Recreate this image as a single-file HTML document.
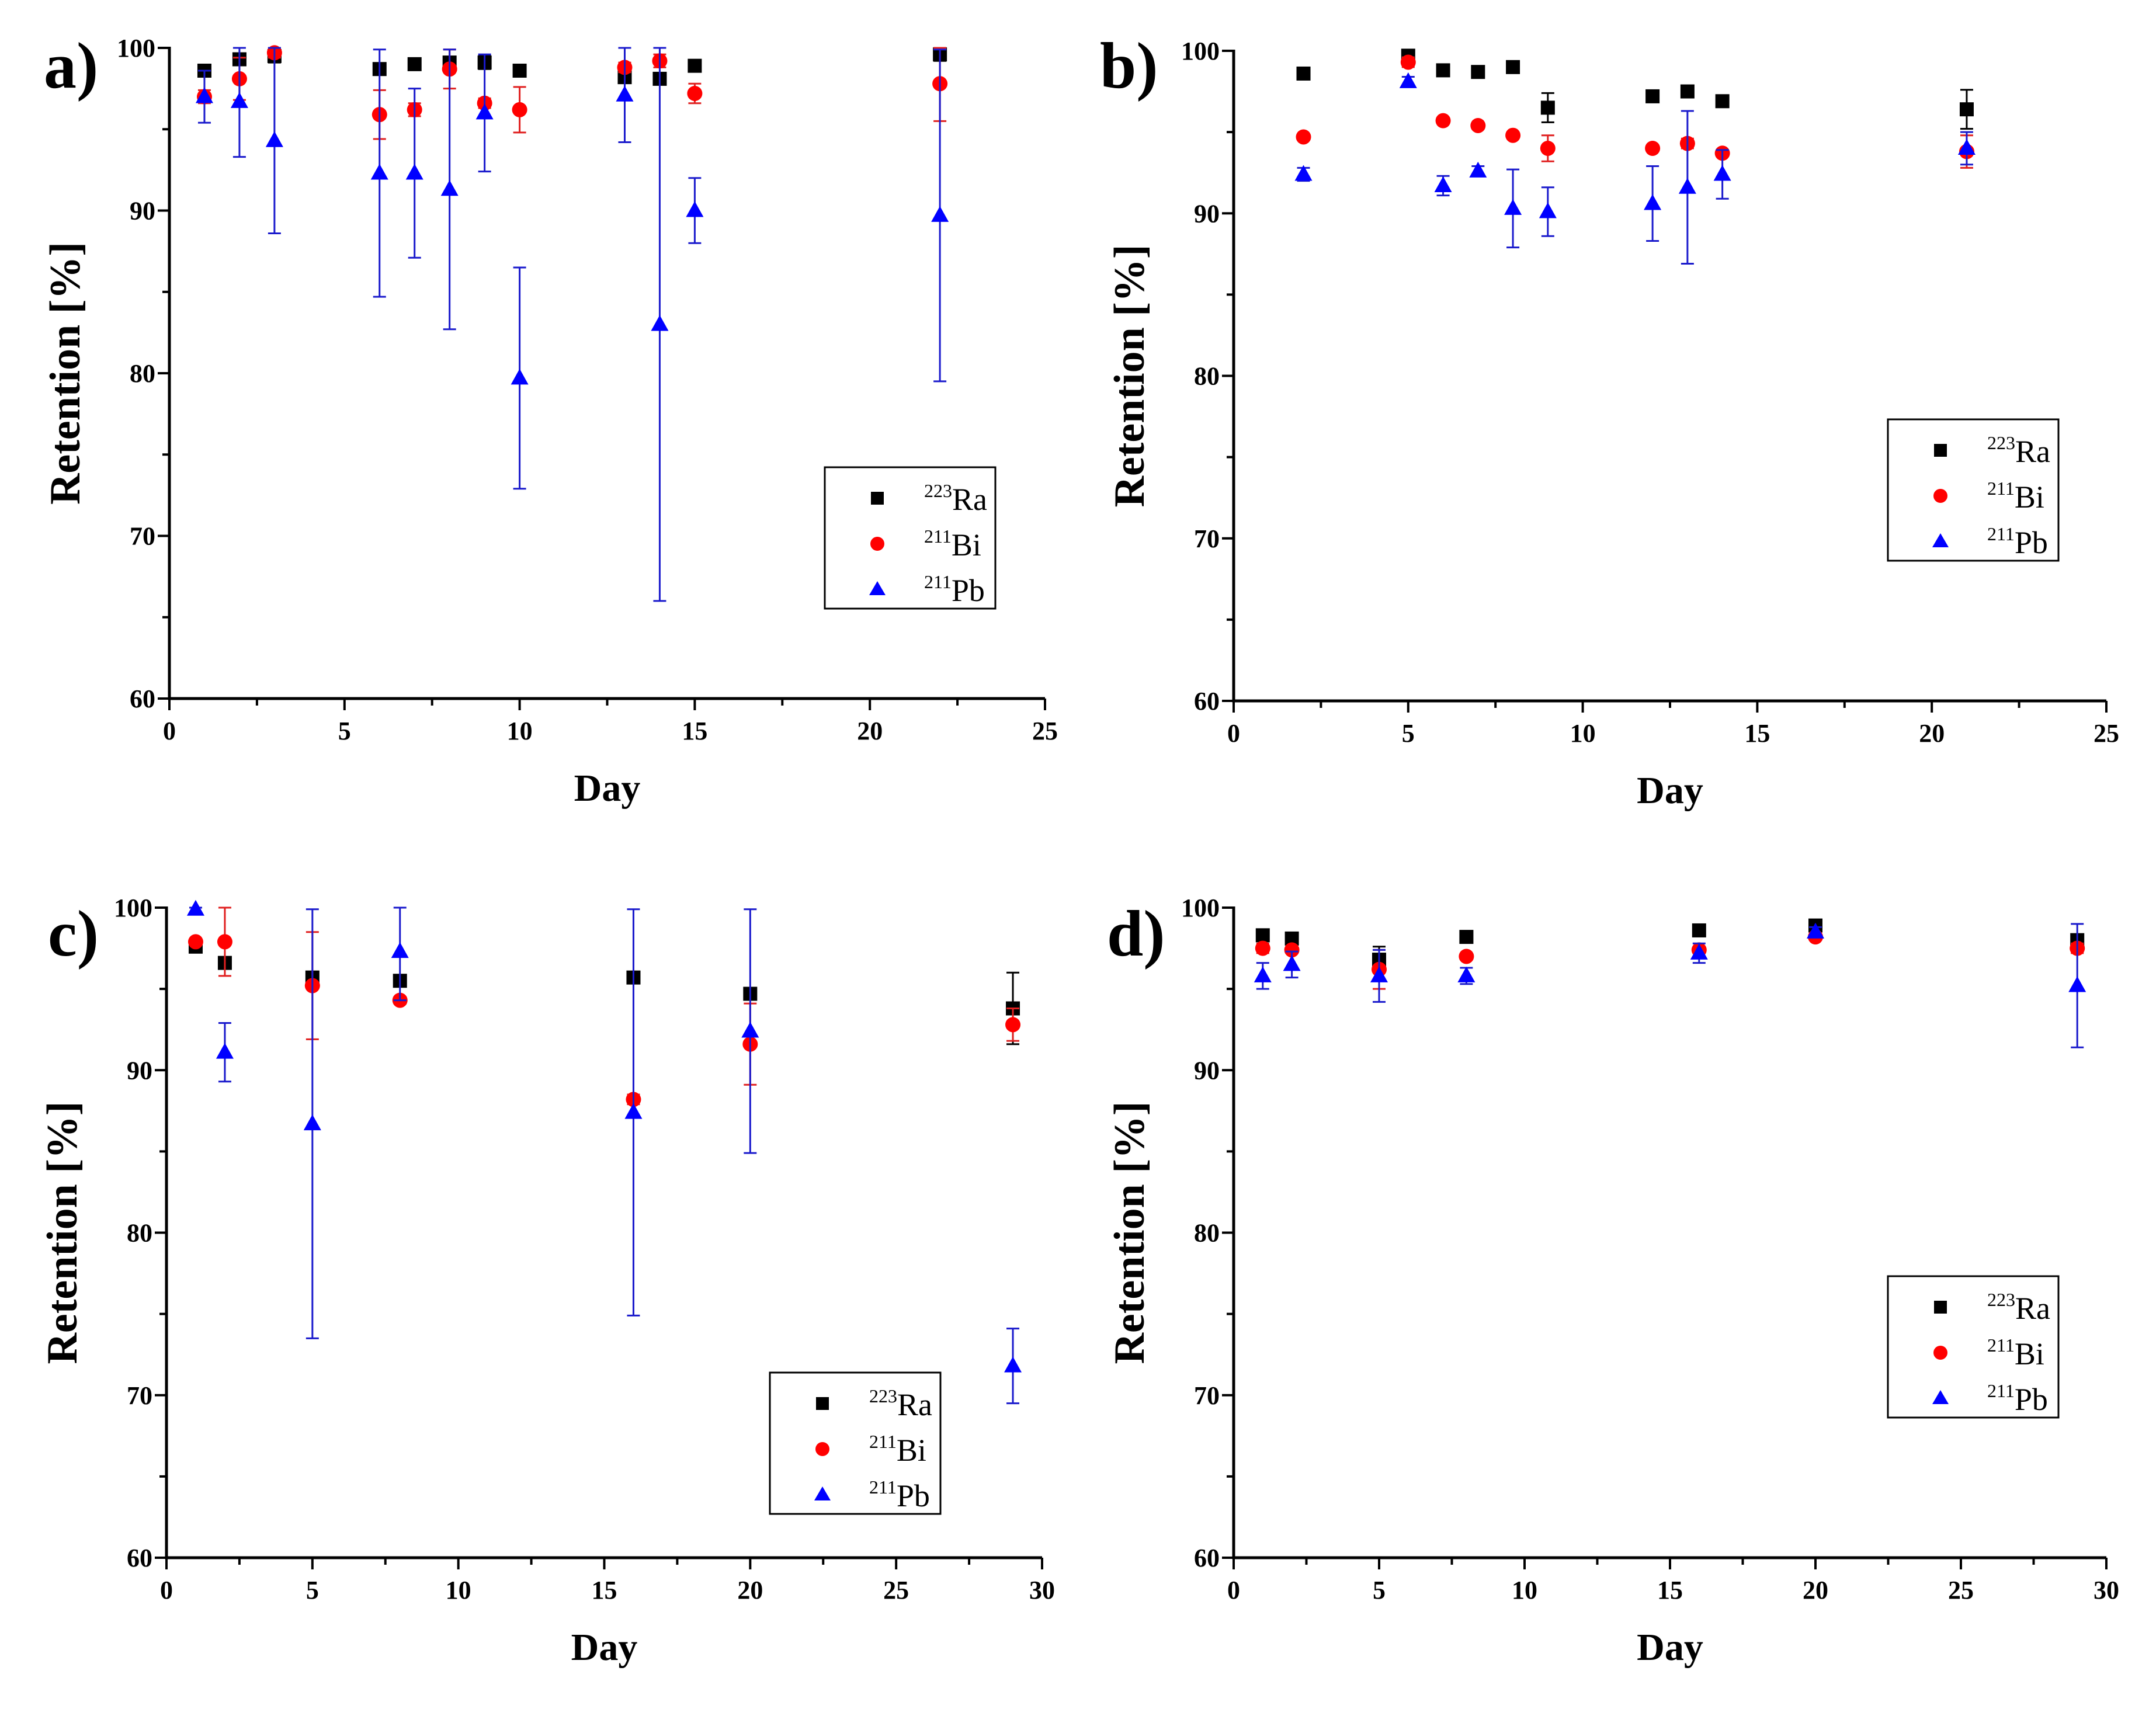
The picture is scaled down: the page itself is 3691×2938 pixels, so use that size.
<!DOCTYPE html>
<html><head><meta charset="utf-8">
<style>
html,body{margin:0;padding:0;background:#fff;}
svg{display:block;}
text{font-family:"Liberation Serif",serif;font-weight:bold;}
</style></head>
<body>
<svg id="fig" width="3691" height="2938" viewBox="0 0 3691 2938" xmlns="http://www.w3.org/2000/svg"></svg>
<script>
// ---- data: panel a ----
const aDays=[1,2,3,6,7,8,9,10,13,14,15,22];
const aRa=[98.6,99.3,99.5,98.7,99.0,99.1,99.1,98.6,98.2,98.1,98.9,99.6];
const aRaErr=[0.2,0.3,0.4,0.2,0.2,0.3,0.4,0.2,0.3,0.3,0.2,0.4];
const aBi=[97.0,98.1,99.7,95.9,96.2,98.7,96.6,96.2,98.8,99.2,97.2,97.8];
const aBiErr=[0.4,1.3,0.3,1.5,0.4,1.2,0.3,1.4,0.3,0.4,0.6,2.3];
const aPb=[97.0,96.7,94.3,92.3,92.3,91.3,96.0,79.7,97.1,83.0,90.0,89.7];
const aPbErr=[1.6,3.4,5.7,7.6,5.2,8.6,3.6,6.8,2.9,17.0,2.0,10.2];
// ---- data: panel b ----
const bDays=[2,5,6,7,8,9,12,13,14,21];
const bRa=[98.6,99.7,98.8,98.7,99.0,96.5,97.2,97.5,96.9,96.4];
const bRaErr=[0.1,0.1,0.1,0.1,0.1,0.9,0.1,0.3,0.1,1.2];
const bBi=[94.7,99.3,95.7,95.4,94.8,94.0,94.0,94.3,93.7,93.8];
const bBiErr=[0.1,0.3,0.1,0.1,0.1,0.8,0.2,0.3,0.2,1.0];
const bPb=[92.4,98.1,91.7,92.6,90.3,90.1,90.6,91.6,92.4,94.0];
const bPbErr=[0.4,0.3,0.6,0.3,2.4,1.5,2.3,4.7,1.5,1.0];
// ---- data: panel c ----
const cDays=[1,2,5,8,16,20,29];
const cRa=[97.6,96.6,95.7,95.5,95.7,94.7,93.8];
const cRaErr=[0.2,0.2,0.3,0.3,0.2,0.3,2.2];
const cBi=[97.9,97.9,95.2,94.3,88.2,91.6,92.8];
const cBiErr=[0.2,2.1,3.3,0.2,0.3,2.5,1.0];
const cPb=[99.9,91.1,86.7,97.3,87.4,92.4,71.8];
const cPbErr=[0.3,1.8,13.2,3.0,12.5,7.5,2.3];
// ---- data: panel d ----
const dDays=[1,2,5,8,16,20,29];
const dRa=[98.3,98.1,96.8,98.2,98.6,98.9,98.0];
const dRaErr=[0.1,0.1,0.8,0.1,0.1,0.1,0.2];
const dBi=[97.5,97.4,96.2,97.0,97.4,98.2,97.5];
const dBiErr=[0.3,0.2,1.2,0.2,0.2,0.1,0.3];
const dPb=[95.8,96.5,95.8,95.8,97.2,98.5,95.2];
const dPbErr=[0.8,0.8,1.6,0.5,0.6,0.3,3.8];
const yTicks=[60,70,80,90,100];

const NS="http://www.w3.org/2000/svg";
const svg=document.getElementById('fig');
function mk(tag,attrs,parent){const e=document.createElementNS(NS,tag);for(const k in attrs)e.setAttribute(k,attrs[k]);(parent||svg).appendChild(e);return e;}

function panel(p){
  const g=mk('g',{});
  
  
  const X=v=>p.x0+(v/p.xmax)*(p.x1-p.x0);
  const Y=v=>p.y0+((100-v)/40)*(p.y1-p.y0);
  const ax=mk('path',{d:`M${p.x0} ${p.y0-2}V${p.y1}H${p.x1}`,fill:'none',stroke:'#000','stroke-width':5},g);
  
  
  for(let v=0;v<=p.xmax;v+=2.5){
    const major=(v%5===0);
    mk('line',{x1:X(v),x2:X(v),y1:p.y1,y2:p.y1+(major?20:12),stroke:'#000','stroke-width':4},g);
    if(major){const t=mk('text',{x:X(v),y:p.y1+70,'font-size':44,'text-anchor':'middle'},g);t.textContent=v;
      
      }
  }
  for(let v=60;v<=100;v+=5){
    const major=(v%10===0);
    mk('line',{x1:p.x0,x2:p.x0-(major?20:12),y1:Y(v),y2:Y(v),stroke:'#000','stroke-width':4},g);
  }
  yTicks.forEach(v=>{const t=mk('text',{x:p.x0-24,y:Y(v)+15,'font-size':44,'text-anchor':'end'},g);t.textContent=v;
    
    });
  const xt=mk('text',{x:(p.x0+p.x1)/2,y:p.y1+175,'font-size':66,'text-anchor':'middle'},g);xt.textContent='Day';
  
  
  const yc=(p.y0+p.y1)/2;
  const tx=p.x0-178;
  const yt=mk('text',{x:tx,y:yc+24,'font-size':74,'text-anchor':'middle',transform:`rotate(-90 ${tx} ${yc})`},g);yt.textContent='Retention [%]';
  
  
  const pl=mk('text',{x:p.lx,y:p.ly,'font-size':112},g);pl.textContent=p.id+')';
  
  
  const series=[
    {vals:p.ra,err:p.raE,col:'#000',bar:'#000',shape:'sq'},
    {vals:p.bi,err:p.biE,col:'#ff0000',bar:'#e02020',shape:'ci'},
    {vals:p.pb,err:p.pbE,col:'#0000ff',bar:'#1a1acc',shape:'tr'}];
  series.forEach((s,si)=>{
    p.days.forEach((d,i)=>{
      const cx=X(d),v=s.vals[i],e=s.err[i];
      const top=Y(Math.min(100,v+e)),bot=Y(Math.max(60,v-e));
      mk('line',{x1:cx,x2:cx,y1:top,y2:bot,stroke:s.bar,'stroke-width':3},g);
      mk('line',{x1:cx-11,x2:cx+11,y1:top,y2:top,stroke:s.bar,'stroke-width':3},g);
      mk('line',{x1:cx-11,x2:cx+11,y1:bot,y2:bot,stroke:s.bar,'stroke-width':3},g);
      const cy=Y(v);let m;
      if(s.shape==='sq')m=mk('rect',{x:cx-12,y:cy-12,width:24,height:24,fill:s.col},g);
      else if(s.shape==='ci')m=mk('circle',{cx:cx,cy:cy,r:13,fill:s.col},g);
      else m=mk('polygon',{points:`${cx},${cy-16} ${cx-15},${cy+11} ${cx+15},${cy+11}`,fill:s.col},g);
      
      
    });
  });
  const L=mk('g',{},g);
  
  
  mk('rect',{x:p.gx,y:p.gy,width:292,height:242,fill:'#fff',stroke:'#000','stroke-width':3},L);
  const names=[['223','Ra'],['211','Bi'],['211','Pb']];
  names.forEach((n,i)=>{
    const cy=p.gy+53+i*78,cx=p.gx+90;
    if(i===0)mk('rect',{x:cx-11,y:cy-11,width:22,height:22,fill:'#000'},L);
    if(i===1)mk('circle',{cx:cx,cy:cy,r:12,fill:'#ff0000'},L);
    if(i===2)mk('polygon',{points:`${cx},${cy-14} ${cx-14},${cy+10} ${cx+14},${cy+10}`,fill:'#0000ff'},L);
    const t=mk('text',{x:p.gx+170,y:cy+20,'font-size':54,style:'font-weight:normal'},L);
    const sup=mk('tspan',{'font-size':32,dy:-22},t);sup.textContent=n[0];
    const m=mk('tspan',{dy:22},t);m.textContent=n[1];
    
    
  });
}
panel({id:'a',x0:290,x1:1789,y0:82,y1:1196,xmax:25,lx:75,ly:150,gx:1412,gy:800,
  days:aDays,ra:aRa,raE:aRaErr,bi:aBi,biE:aBiErr,pb:aPb,pbE:aPbErr});
panel({id:'b',x0:2112,x1:3606,y0:87,y1:1200,xmax:25,lx:1883,ly:150,gx:3232,gy:718,
  days:bDays,ra:bRa,raE:bRaErr,bi:bBi,biE:bBiErr,pb:bPb,pbE:bPbErr});
panel({id:'c',x0:285,x1:1784,y0:1554,y1:2667,xmax:30,lx:82,ly:1636,gx:1318,gy:2350,
  days:cDays,ra:cRa,raE:cRaErr,bi:cBi,biE:cBiErr,pb:cPb,pbE:cPbErr});
panel({id:'d',x0:2112,x1:3606,y0:1554,y1:2667,xmax:30,lx:1895,ly:1636,gx:3232,gy:2185,
  days:dDays,ra:dRa,raE:dRaErr,bi:dBi,biE:dBiErr,pb:dPb,pbE:dPbErr});
</script>
</body></html>
